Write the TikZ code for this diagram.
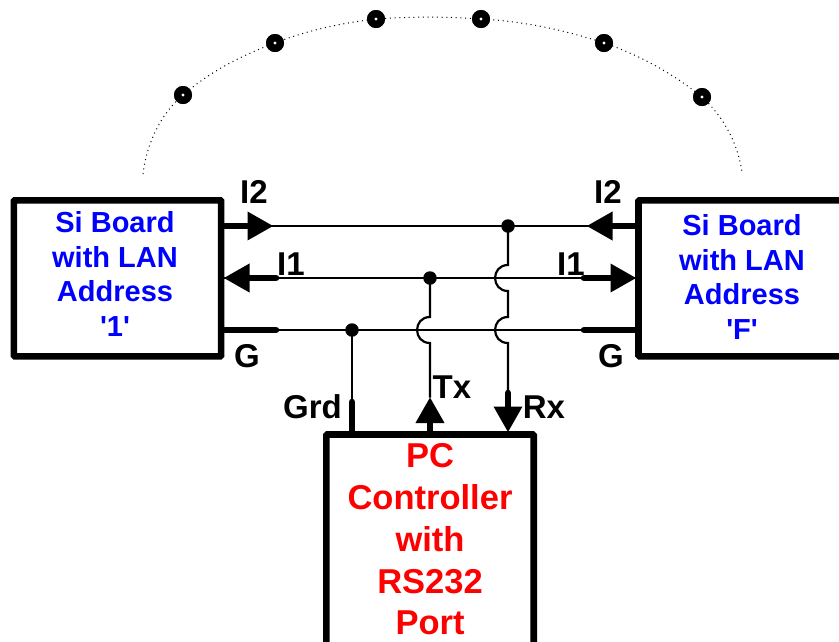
\documentclass[tikz,border=0pt]{standalone}
\usepackage{fontspec}
\setmainfont{Liberation Sans}
\usetikzlibrary{arrows.meta}
\definecolor{figB}{RGB}{0,0,255}
\definecolor{figR}{RGB}{255,0,0}
\tikzset{
  boxline/.style={draw=black,line width=6.6pt,rounded corners=1pt,fill=white,inner sep=0pt},
  sitext/.style={font=\fontsize{29}{34.7}\selectfont\bfseries,text=figB,align=center},
  pctext/.style={font=\fontsize{34.5}{41.7}\selectfont\bfseries,text=figR,align=center},
  siglabel/.style={font=\fontsize{33}{36}\selectfont\bfseries,inner sep=0pt},
  wire/.style={line width=2.2pt},
  stub/.style={line width=6.6pt,line cap=round},
  headline/.style={line width=6.6pt,line cap=round,-{Triangle[length=26pt,width=27pt]},shorten >=-0.5pt},
  joint/.style={circle,fill=black,inner sep=0pt,minimum size=13.5pt},
  ringdot/.style={circle,fill=black,inner sep=0pt,minimum size=18pt},
}
\begin{document}
\begin{tikzpicture}[x=1pt,y=-1pt]
\useasboundingbox (0,0) rectangle (839,641);
\clip (0,0) rectangle (839,641);
% nodes on the ring
\foreach \n/\x/\y in {a/183/95,b/275/43,c/376/19,d/481/19,e/604/43,f/702/97}
  \node[ringdot] (dot\n) at (\x,\y) {};
\coordinate (ringL) at (143,174);
\coordinate (ringR) at (742,172);
\draw[line width=1pt,dash pattern=on 1pt off 3.7pt] (ringL)
  .. controls (147,140) and (163,112) .. (dota.center)
  .. controls (212,70) and (243,55) .. (dotb.center)
  .. controls (308,30) and (342,23) .. (dotc.center)
  .. controls (410,16.5) and (447,16.5) .. (dotd.center)
  .. controls (522,21) and (565,30) .. (dote.center)
  .. controls (640,55) and (675,75) .. (dotf.center)
  .. controls (725,118) and (738,145) .. (ringR);
\foreach \n in {a,b,c,d,e,f} {
  \node[ringdot] at (dot\n) {};
  \fill[white] (dot\n) circle (1.7pt);
}
% boxes
\node[boxline,minimum width=207.3pt,minimum height=156pt] (boardL) at (117.5,278.3) {};
\node[boxline,minimum width=207.3pt,minimum height=156pt] (boardR) at (742.15,278.3) {};
\node[boxline,minimum width=207.4pt,minimum height=264pt] (pc) at (430,566.5) {};
\node[sitext] (textL) at (115,274) {Si Board\\with LAN\\Address\\\textquotesingle1\textquotesingle};
\node[sitext] (textR) at (742,277) {Si Board\\with LAN\\Address\\\textquotesingle F\textquotesingle};
\node[pctext] (textPC) at (430,539.5) {PC\\Controller\\with\\RS232\\Port};
% bus lines
\foreach \n/\y in {two/226,one/278,gnd/330} {
  \coordinate (\n L) at (221,\y); \coordinate (\n R) at (639,\y);
  \coordinate (\n A) at (276,\y); \coordinate (\n B) at (584,\y);
  \draw[wire] (\n L) -- (\n R);
}
% ends at the boards
\coordinate (twoC) at (250,226); \coordinate (twoD) at (610,226);
\coordinate (twoE) at (273,226); \coordinate (twoF) at (587,226);
\coordinate (oneC) at (224,278); \coordinate (oneD) at (636,278);
\coordinate (gndC) at (224,330); \coordinate (gndD) at (636,330);
\draw[line width=6.6pt] (twoL) -- (twoC);
\draw[line width=6.6pt] (twoR) -- (twoD);
\draw[headline] (twoC) -- (twoE);
\draw[headline] (twoD) -- (twoF);
\draw[headline] (oneA) -- (oneC);
\draw[headline] (oneB) -- (oneD);
\draw[stub] (gndC) -- (gndA);
\draw[stub] (gndD) -- (gndB);
% drops to the PC
\coordinate (grdTop) at (352,330); \coordinate (grdMid) at (352,402); \coordinate (grdEnd) at (352,432);
\coordinate (txTop) at (430,278); \coordinate (txA) at (430,317); \coordinate (txB) at (430,343);
\coordinate (txHead) at (430,397.5); \coordinate (txEnd) at (430,432);
\coordinate (rxTop) at (508,226); \coordinate (rxA) at (508,265); \coordinate (rxB) at (508,291);
\coordinate (rxC) at (508,317); \coordinate (rxD) at (508,343);
\coordinate (rxMid) at (508,393); \coordinate (rxHead) at (508,432);
\draw[wire] (grdTop) -- (grdMid);
\draw[stub] (grdMid) -- (grdEnd);
\draw[wire] (txTop) -- (txA) to[out=180,in=180,looseness=1.7] (txB) -- (txHead);
\draw[headline] (txEnd) -- (txHead);
\draw[wire] (rxTop) -- (rxA) to[out=180,in=180,looseness=1.7] (rxB) -- (rxC) to[out=180,in=180,looseness=1.7] (rxD) -- (rxMid);
\draw[headline] (rxMid) -- (rxHead);
\node[joint] (jointTwo) at (rxTop) {};
\node[joint] (jointOne) at (txTop) {};
\node[joint] (jointGnd) at (grdTop) {};
% labels
\node[siglabel] (lblTwoL) at (254,192) {I2};
\node[siglabel] (lblTwoR) at (608,192) {I2};
\node[siglabel] (lblOneL) at (291,264) {I1};
\node[siglabel] (lblOneR) at (571,264) {I1};
\node[siglabel] (lblGndL) at (247,356) {G};
\node[siglabel] (lblGndR) at (611,356) {G};
\node[siglabel] (lblGrd) at (312.5,407) {Grd};
\node[siglabel] (lblTx) at (452,387) {Tx};
\node[siglabel] (lblRx) at (544,407) {Rx};
\end{tikzpicture}
\end{document}
